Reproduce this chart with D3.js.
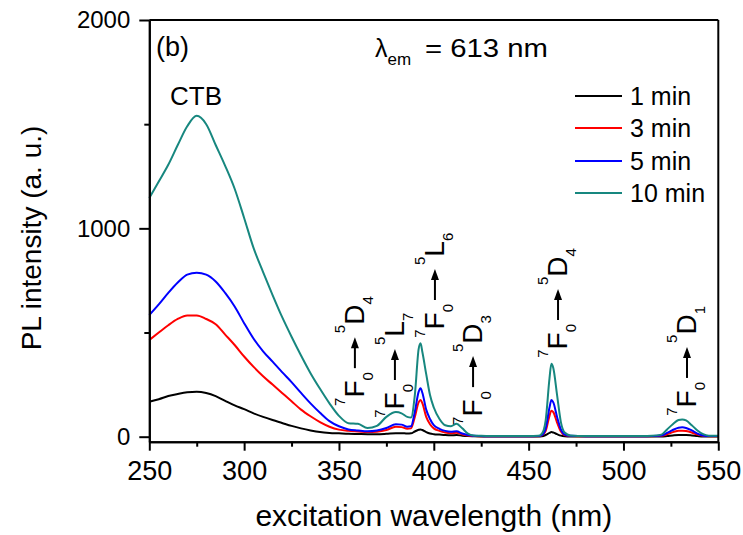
<!DOCTYPE html>
<html>
<head>
<meta charset="utf-8">
<script src="https://cdn.jsdelivr.net/npm/d3@7"></script>
<style>
  html, body { margin: 0; padding: 0; background: #fff; }
  svg { display: block; }
  text { font-family: "Liberation Sans", Arial, sans-serif; fill: #000; }
</style>
</head>
<body>
<script>
// ---------------- data ----------------
const wavelength = [250,255,260,265,270,275,280,285,290,295,300,305,310,315,320,325,330,335,340,345,
  350,355,360,365,370,375,380,383,386,388,390,392,393,394,396,398,400,403,406,409,
  412,415,418,421,425,430,440,450,455,457,459,461,462,463,465,467,469,472,480,490,
  500,510,515,520,523,526,529,531,533,536,539,542,545,550];

const min1 = [168,180,195,205,213,216,210,195,172,150,
  132,112,95,80,66,52,40,30,22,18,
  16,14,13,12,12,14,17,17,15,16,
  25,33,35,32,22,15,12,10,8,7,
  8,5,3,2,1,1,1,1,1,2,
  8,18,22,20,12,5,2,1,1,1,
  1,1,1,1,3,6,8,8,8,6,
  3,1,1,1];

const min3 = [464,500,535,565,582,582,565,540,490,440,
  385,335,290,250,210,170,130,98,70,48,
  34,28,25,22,24,32,48,46,38,40,
  95,165,176,160,95,60,40,28,20,17,
  19,11,6,3,2,2,2,2,2,6,
  28,100,125,118,68,25,8,3,2,2,
  2,2,2,4,12,22,28,29,27,20,
  10,4,2,2];

const min5 = [584,635,690,740,778,787,778,745,690,625,
  545,470,410,360,310,262,210,160,115,75,
  50,35,30,26,30,42,60,58,48,50,
  120,215,232,210,130,85,55,38,28,24,
  26,15,8,4,3,2,2,2,3,8,
  40,140,176,165,95,35,10,4,2,2,
  2,2,3,6,18,32,43,45,42,30,
  15,6,3,3];

const min10 = [1146,1225,1305,1400,1490,1540,1500,1400,1300,1190,
  1050,905,790,680,575,480,390,305,230,160,
  100,65,62,42,52,95,118,112,95,92,
  200,420,448,405,300,200,140,85,55,50,
  62,40,15,6,4,3,3,3,4,15,
  80,280,350,330,200,70,20,6,3,3,
  3,3,4,10,35,60,80,83,78,55,
  30,12,5,4];

const seriesNames = ["1 min", "3 min", "5 min", "10 min"];
const seriesColors = ["#000000", "#ff0000", "#0000ff", "#17877f"];
const seriesValues = [min1, min3, min5, min10];

const xMajorTicks = [250, 300, 350, 400, 450, 500, 550];
const xMinorTicks = [275, 325, 375, 425, 475, 525];
const yMajorTicks = [0, 1000, 2000];
const yMinorTicks = [500, 1500];

// transitions: lower state, upper state (superscript, letter, subscript)
const annWavelength = [358.4, 379.5, 400.6, 420.7, 465.5, 533.5];
const annArrowBase  = [329, 272, 656, 238, 560, 282];
const annUpper = [["5","D","4"],["5","L","7"],["5","L","6"],["5","D","3"],["5","D","4"],["5","D","1"]];
const annLower = ["7","F","0"];

// ---------------- chart ----------------
const W = 743, H = 535;
const svg = d3.select("body").append("svg").attr("width", W).attr("height", H);

const x = d3.scaleLinear().domain([250, 550]).range([149.3, 718.3]);
const y = d3.scaleLinear().domain([-24, 2000]).range([441.7, 20]);

// curves
const line = d3.line().x(d => x(d[0])).y(d => y(d[1])).curve(d3.curveMonotoneX);
seriesValues.forEach((vals, i) => {
  svg.append("path")
    .datum(wavelength.map((w, j) => [w, vals[j]]))
    .attr("d", line)
    .attr("fill", "none")
    .attr("stroke", seriesColors[i])
    .attr("stroke-width", 2)
    .attr("stroke-linejoin", "round");
});

// axes
const xAxisG = svg.append("g").attr("transform", `translate(0,${y.range()[0]})`)
  .call(d3.axisBottom(x).tickValues(xMajorTicks).tickSize(9).tickSizeOuter(0).tickPadding(10).tickFormat(d3.format("d")));
svg.append("g").attr("transform", `translate(0,${y.range()[0]})`)
  .call(d3.axisBottom(x).tickValues(xMinorTicks).tickSize(5).tickSizeOuter(0).tickFormat(""));
const yAxisG = svg.append("g").attr("transform", `translate(${x.range()[0]},0)`)
  .call(d3.axisLeft(y).tickValues(yMajorTicks).tickSize(10).tickSizeOuter(0).tickPadding(9).tickFormat(d3.format("d")));
svg.append("g").attr("transform", `translate(${x.range()[0]},0)`)
  .call(d3.axisLeft(y).tickValues(yMinorTicks).tickSize(5).tickSizeOuter(0).tickFormat(""));

svg.selectAll(".domain").attr("stroke", "#000").attr("stroke-width", 2);
svg.selectAll(".tick line").attr("stroke", "#000").attr("stroke-width", 2);
xAxisG.selectAll("text").attr("font-size", 27).attr("font-family", "Liberation Sans, Arial, sans-serif").attr("fill", "#000");
yAxisG.selectAll("text").attr("font-size", 24).attr("font-family", "Liberation Sans, Arial, sans-serif").attr("fill", "#000");

// frame top & right
svg.append("line").attr("x1", x.range()[0]).attr("x2", x.range()[1]).attr("y1", y.range()[1]).attr("y2", y.range()[1])
  .attr("stroke", "#000").attr("stroke-width", 2);
svg.append("line").attr("x1", x.range()[1]).attr("x2", x.range()[1]).attr("y1", y.range()[1]).attr("y2", y.range()[0])
  .attr("stroke", "#000").attr("stroke-width", 2);

// axis titles
svg.append("text").attr("x", (x.range()[0] + x.range()[1]) / 2).attr("y", 526)
  .attr("text-anchor", "middle").attr("font-size", 30).text("excitation wavelength (nm)");
svg.append("text").attr("transform", "translate(41,238) rotate(-90)")
  .attr("text-anchor", "middle").attr("font-size", 28).text("PL intensity (a. u.)");

// inner texts
svg.append("text").attr("x", 156).attr("y", 56).attr("font-size", 27).text("(b)");
svg.append("text").attr("x", 170).attr("y", 105).attr("font-size", 26).text("CTB");
const lam = svg.append("text").attr("x", 375).attr("y", 57).attr("font-size", 25);
lam.append("tspan").text("λ");
lam.append("tspan").attr("font-size", 17).attr("dy", 8).text("em");
svg.append("text").attr("x", 425).attr("y", 57).attr("font-size", 25)
  .attr("textLength", 123).attr("lengthAdjust", "spacingAndGlyphs").text("= 613 nm");

// legend
const legY = [96, 128, 161, 193];
seriesNames.forEach((n, i) => {
  svg.append("line").attr("x1", 575).attr("x2", 622).attr("y1", legY[i]).attr("y2", legY[i])
    .attr("stroke", seriesColors[i]).attr("stroke-width", 2);
  svg.append("text").attr("x", 630).attr("y", legY[i] + 9).attr("font-size", 25).text(n);
});

// transition annotations (rotated)
function addTerm(textSel, parts) {
  textSel.append("tspan").attr("font-size", 15).attr("dy", -19).text(parts[0]);
  textSel.append("tspan").attr("font-size", 28).attr("dy", 19).text(parts[1]);
  textSel.append("tspan").attr("font-size", 15).attr("dy", 9).text(parts[2]);
}
annWavelength.forEach((w, i) => {
  const g = svg.append("g")
    .attr("transform", `translate(${x(w) + 9},${y(annArrowBase[i])}) rotate(-90)`);
  const t1 = g.append("text").attr("x", -4).attr("y", 0).attr("text-anchor", "end");
  addTerm(t1, annLower);
  g.append("line").attr("x1", 0).attr("x2", 22).attr("y1", -9).attr("y2", -9)
    .attr("stroke", "#000").attr("stroke-width", 2);
  g.append("path").attr("d", "M20,-13 L31,-9 L20,-5 Z").attr("fill", "#000");
  const t2 = g.append("text").attr("x", 35).attr("y", 0).attr("text-anchor", "start");
  addTerm(t2, annUpper[i]);
});
</script>
</body>
</html>
